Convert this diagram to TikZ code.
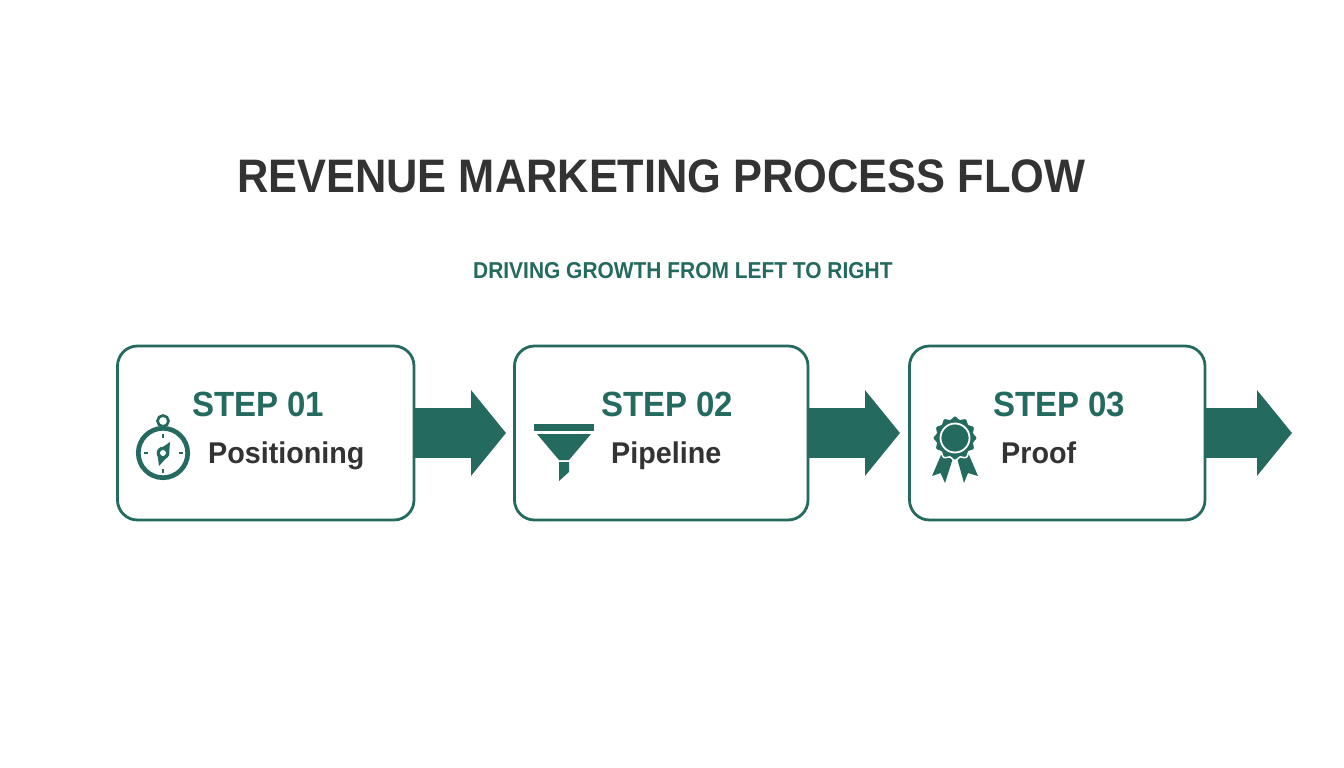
\documentclass[tikz,border=0pt]{standalone}
\usepackage{fontspec}
\setmainfont{Liberation Sans}
\newfontfamily\titlefont[FakeStretch=0.923]{Liberation Sans}
\newfontfamily\subfont[FakeStretch=0.91]{Liberation Sans}
\newfontfamily\stepfont[FakeStretch=0.943]{Liberation Sans}
\newfontfamily\namefont[FakeStretch=0.957]{Liberation Sans}
\usetikzlibrary{arrows.meta,calc}
\definecolor{teal}{HTML}{246A5F}
\definecolor{ink}{HTML}{333333}
\tikzset{
  stepbox/.style={draw=teal,line width=2.8pt,rounded corners=20pt,fill=white,inner sep=0pt,outer sep=0pt,anchor=north west},
  flow/.style={draw=teal,line width=50pt,-{Triangle[length=35pt,width=84pt,fill=teal]}},
  steplabel/.style={anchor=base west,inner sep=0pt,text=teal,font=\stepfont\bfseries\fontsize{35}{35}\selectfont},
  namelabel/.style={anchor=base west,inner sep=0pt,text=ink,font=\namefont\bfseries\fontsize{30}{30}\selectfont},
  iconfill/.style={fill=teal,draw=none},
}
\begin{document}
\begin{tikzpicture}[x=1pt,y=-1pt]
\useasboundingbox (0,0) rectangle (1344,768);
\fill[white] (0,0) rectangle (1344,768);
\node[anchor=base west,inner sep=0pt,text=ink,font=\titlefont\bfseries\fontsize{47}{47}\selectfont] (title) at (237,192.5) {REVENUE MARKETING PROCESS FLOW};
\node[anchor=base west,inner sep=0pt,text=teal,font=\subfont\bfseries\fontsize{23}{23}\selectfont] (subtitle) at (473,278) {DRIVING GROWTH FROM LEFT TO RIGHT};
% boxes
\node[stepbox,minimum width=296.5pt,minimum height=174pt] (b1) at (117.5,346) {};
\node[stepbox,minimum width=293.5pt,minimum height=174pt] (b2) at (514.5,346) {};
\node[stepbox,minimum width=295.5pt,minimum height=174pt] (b3) at (909.5,346) {};
% arrows
\coordinate (t1) at (506,433);
\coordinate (t2) at (900,433);
\coordinate (t3) at (1292,433);
\draw[flow] (b1.east) -- (t1);
\draw[flow] (b2.east) -- (t2);
\draw[flow] (b3.east) -- (t3);
% labels
\node[steplabel] (s1) at (192,416) {STEP 01};
\node[steplabel] (s2) at (601,416) {STEP 02};
\node[steplabel] (s3) at (993,416) {STEP 03};
\node[namelabel] (n1) at (208,463) {Positioning};
\node[namelabel] (n2) at (611,463) {Pipeline};
\node[namelabel] (n3) at (1001,463) {Proof};
% compass
\draw[teal,line width=4.7pt] (163,453) circle (24.7pt);
\draw[teal,line width=2.7pt] (163,421) circle (5.5pt);
\foreach \a in {0,90,180,270}
  \draw[teal,line width=2.5pt] ($(163,453)+(\a:19.5pt)$) -- ($(163,453)+(\a:15.5pt)$);
\fill[teal] (170,442) -- (169,455) -- (159,466) -- (157,451) -- cycle;
\fill[teal] (163,453) circle (6.3pt);
\fill[white] (163,453) circle (3pt);
% funnel
\fill[iconfill] (534,424) rectangle (594,431);
\fill[iconfill] (537,434) -- (591,434) -- (569,460) -- (559,460) -- cycle;
\fill[iconfill] (559,462) -- (569,462) -- (569,472) -- (559,481) -- cycle;
% ribbon
\fill[iconfill] (941,455) -- (953,458) -- (945,483) -- (940.5,473) -- (932,476) -- cycle;
\fill[iconfill] (957,458) -- (969,455) -- (978,476) -- (968,473) -- (964,483) -- cycle;
% medal
\fill[iconfill,draw=white,line width=1.5pt] plot[smooth cycle,samples=72,domain=0:355,variable=\t] ({955+(21+1.4*cos(12*\t))*cos(\t)},{438+(21+1.4*cos(12*\t))*sin(\t)});
\draw[white,line width=1.8pt] (955,438) circle (14.5pt);
\end{tikzpicture}
\end{document}
